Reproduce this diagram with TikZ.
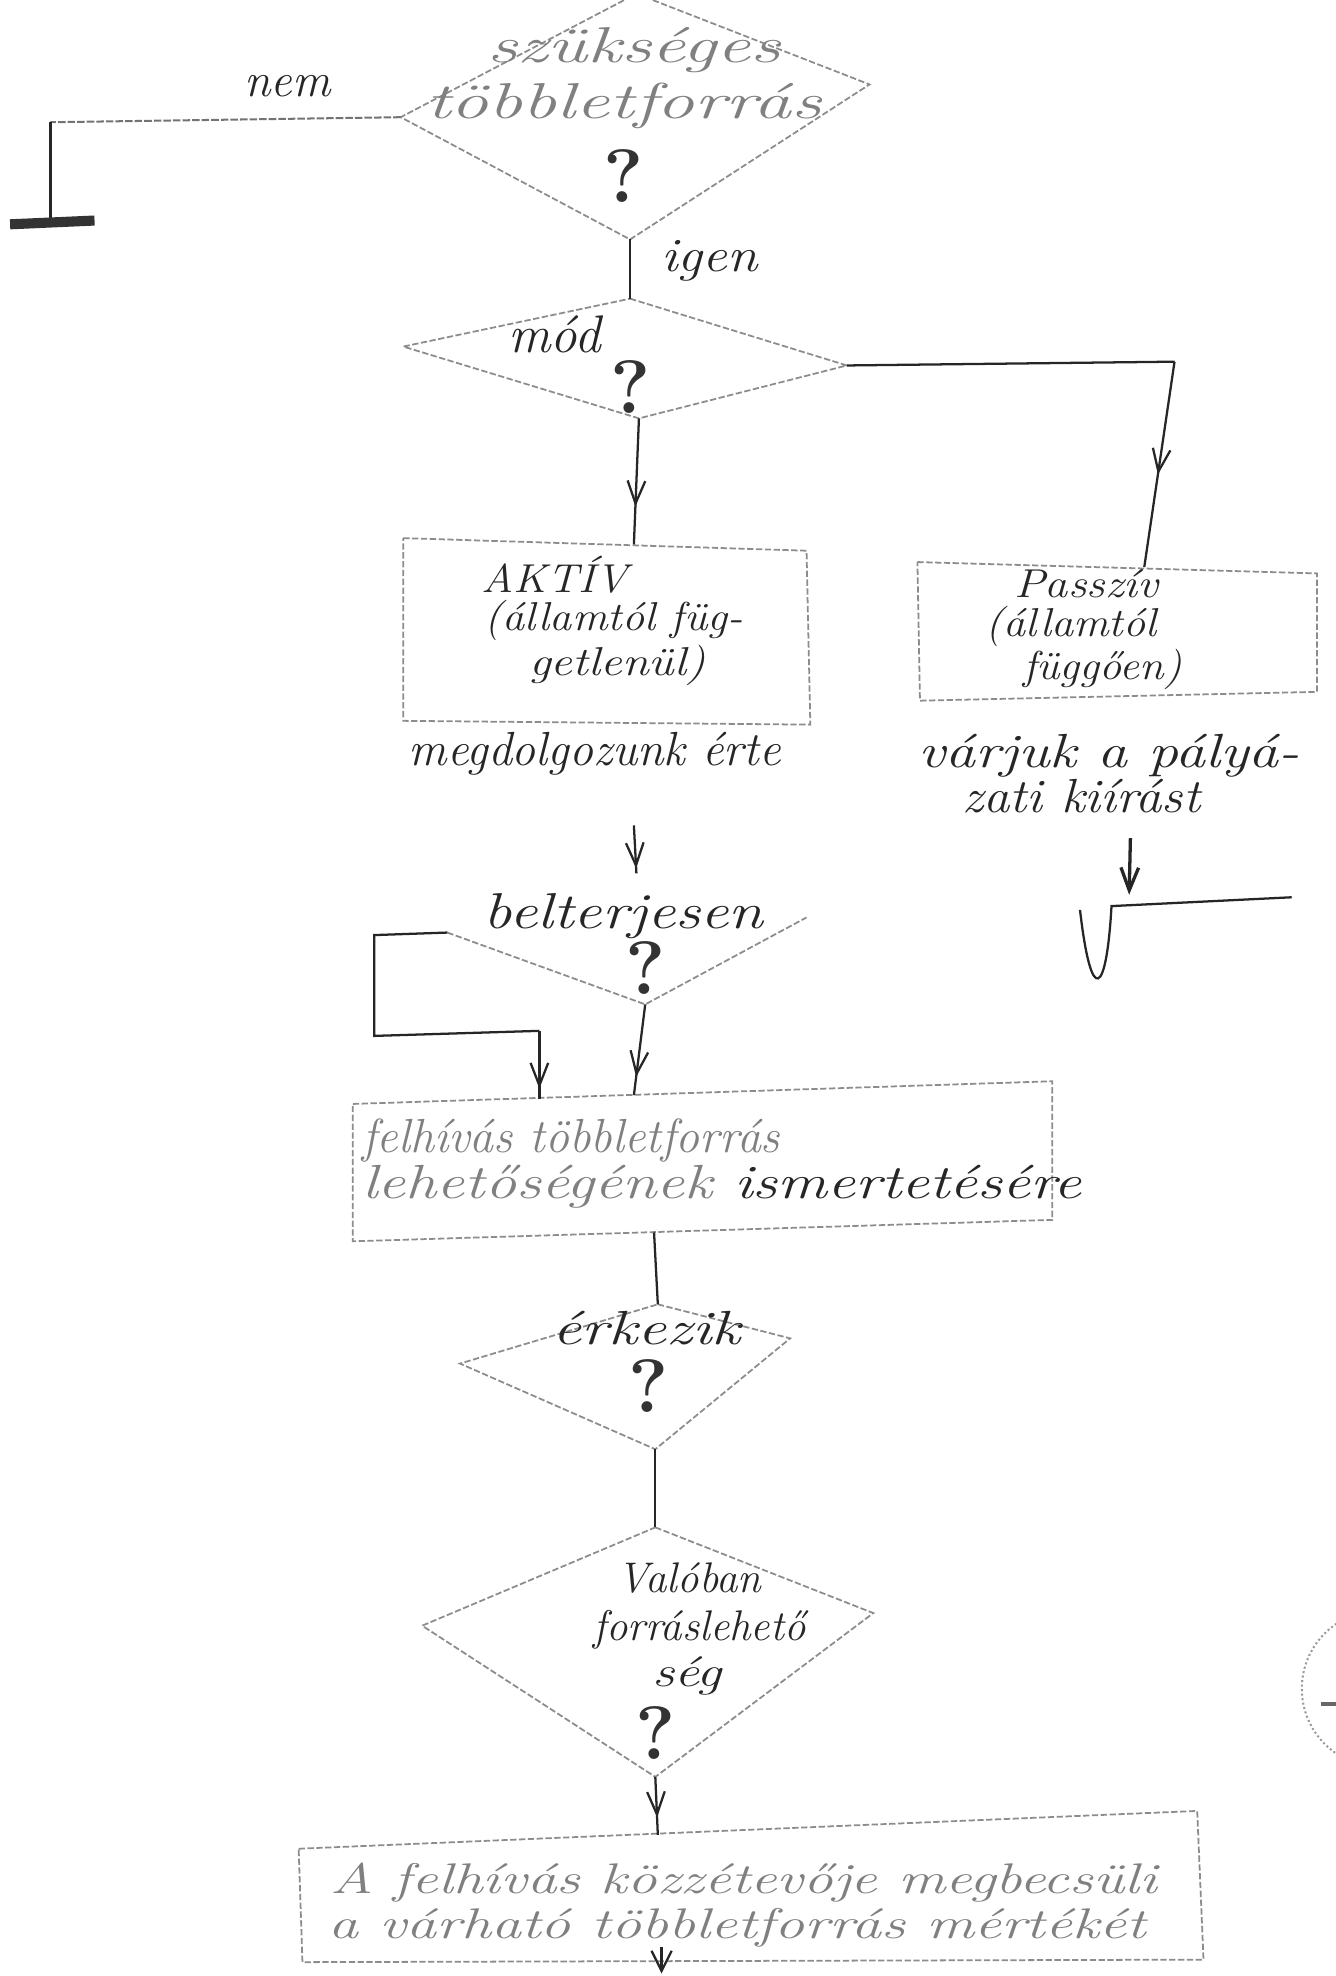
\documentclass[tikz,border=0pt]{standalone}
\usepackage{graphicx}
\usetikzlibrary{arrows.meta,decorations.markings}
\newcommand{\hstretch}[2]{\scalebox{#1}[1]{#2}}
\begin{document}
\begin{tikzpicture}[x=0.5pt,y=-0.5pt,
  shapeline/.style={draw=black!45, line width=0.7pt, dash pattern=on 2.5pt off 1pt},
  conn/.style={draw=black!85, line width=0.9pt},
  faintconn/.style={draw=black!55, line width=0.8pt, dash pattern=on 3pt off 0.8pt},
  midarrow/.style={postaction={decorate}, decoration={markings, mark=at position #1 with {\arrow{Straight Barb[length=9pt,width=7pt]}}}},
  txt/.style={font=\fontsize{19}{22}\selectfont\itshape, inner sep=0pt, text=black!85},
  small/.style={txt, font=\fontsize{16}{18}\selectfont\itshape},
  faint/.style={txt, text=black!50},
  q/.style={font=\fontsize{30}{30}\selectfont\bfseries, inner sep=0pt, text=black!80}]
\useasboundingbox (0,0) rectangle (1060,1568);

% ---------- left terminator ----------
\coordinate (ntop) at (40,97);
\coordinate (nbot) at (40,176);
\coordinate (barL) at (8,178);
\coordinate (barR) at (75,175);

% ---------- diamond 1 ----------
\coordinate (d1t) at (505,-5);
\coordinate (d1r) at (690,67);
\coordinate (d1b) at (500,190);
\coordinate (d1l) at (318,93);
\draw[shapeline] (d1t) -- (d1r) -- (d1b) -- (d1l) -- cycle;
\node[faint, font=\fontsize{20}{22}\selectfont\itshape] (d1a) at (503,40) {\hstretch{1.5}{szükséges}};
\node[faint, font=\fontsize{20}{22}\selectfont\itshape] (d1c) at (495,84) {\hstretch{1.5}{többletforrás}};
\node[q] (q1) at (495,140) {?};
\node[txt] (nem) at (228,68) {nem};
\node[txt] (igen) at (563,207) {\hstretch{1.15}{igen}};

\draw[faintconn] (d1l) -- (ntop);
\draw[conn] (ntop) -- (nbot);
\draw[black!80, line width=4pt] (barL) -- (barR);

% ---------- diamond 2 ----------
\coordinate (d2t) at (500,237);
\coordinate (d2r) at (672,290);
\coordinate (d2b) at (507,332);
\coordinate (d2l) at (320,275);
\draw[shapeline] (d2t) -- (d2r) -- (d2b) -- (d2l) -- cycle;
\node[txt, font=\fontsize{21}{24}\selectfont\itshape] (mod) at (440,265) {mód};
\node[q] (q2) at (500,307) {?};
\draw[conn] (d1b) -- (d2t);

% ---------- AKTIV box ----------
\coordinate (a1) at (320,427);
\coordinate (a2) at (640,437);
\coordinate (a3) at (643,575);
\coordinate (a4) at (320,572);
\coordinate (atop) at (503,432);
\draw[shapeline] (a1) -- (a2) -- (a3) -- (a4) -- cycle;
\node[small] (akt1) at (440,456) {\hstretch{1.1}{AKTÍV}};
\node[small] (akt2) at (487,492) {\hstretch{1.1}{(államtól füg-}};
\node[small] (akt3) at (490,528) {\hstretch{1.2}{getlenül)}};
\node[txt] (megd) at (472,598) {megdolgozunk érte};
\draw[conn, midarrow=0.7] (d2b) -- (atop);

% ---------- Passziv box ----------
\coordinate (p1) at (728,446);
\coordinate (p2) at (1045,455);
\coordinate (p3) at (1045,549);
\coordinate (p4) at (730,556);
\coordinate (ptop) at (908,450);
\coordinate (pcorner) at (932,287);
\draw[shapeline] (p1) -- (p2) -- (p3) -- (p4) -- cycle;
\node[small] (pas1) at (862,463) {\hstretch{1.15}{Passzív}};
\node[small] (pas2) at (850,497) {\hstretch{1.1}{(államtól}};
\node[small] (pas3) at (875,531) {\hstretch{1.1}{függően)}};
\node[txt] (var1) at (880,600) {\hstretch{1.25}{várjuk a pályá-}};
\node[txt] (var2) at (858,632) {\hstretch{1.1}{zati kiírást}};
\draw[conn] (d2r) -- (pcorner);
\draw[conn, midarrow=0.55] (pcorner) -- (ptop);

% ---------- end symbol right ----------
\coordinate (e1) at (857,722);
\coordinate (e2) at (882,719);
\coordinate (e3) at (1025,712);
\coordinate (eStart) at (897,665);
\coordinate (eArr) at (896,710);
\draw[conn] (e1) .. controls (866,800) and (878,790) .. (e2) -- (e3);
\draw[conn, -{Straight Barb[length=9pt,width=7pt]}, line width=1.3pt] (eStart) -- (eArr);

% ---------- diamond 3 (belterjesen) ----------
\coordinate (d3t) at (505,693);
\coordinate (d3r) at (640,728);
\coordinate (d3b) at (512,797);
\coordinate (d3l) at (355,740);
\coordinate (mA) at (503,655);
\draw[shapeline] (d3l) -- (d3b) -- (d3r);
\node[txt, font=\fontsize{20}{24}\selectfont\itshape] (belt) at (495,727) {\hstretch{1.25}{belterjesen}};
\node[q] (q3) at (512,768) {?};
\draw[conn, midarrow=0.9] (mA) -- (d3t);

% ---------- box 4 ----------
\coordinate (b1) at (280,876);
\coordinate (b2) at (835,858);
\coordinate (b3) at (835,968);
\coordinate (b4) at (280,985);
\coordinate (b4top) at (503,869);
\coordinate (b4topL) at (428,872);
\coordinate (b4bot) at (519,978);
\draw[shapeline] (b1) -- (b2) -- (b3) -- (b4) -- cycle;
\node[faint, anchor=west] (f1) at (287,905) {felhívás többletforrás};
\node[txt, anchor=west] (f2) at (287,942) {\hstretch{1.3}{{\color{black!50}lehetőségének} ismertetésére}};

\coordinate (lp1) at (297,742);
\coordinate (lp2) at (297,822);
\coordinate (lp3) at (428,818);
\draw[conn] (d3l) -- (lp1) -- (lp2) -- (lp3);
\draw[conn, midarrow=0.85] (lp3) -- (b4topL);
\draw[conn, midarrow=0.8] (d3b) -- (b4top);

% ---------- diamond 5 (erkezik) ----------
\coordinate (d5t) at (522,1035);
\coordinate (d5r) at (627,1062);
\coordinate (d5b) at (520,1150);
\coordinate (d5l) at (365,1082);
\draw[shapeline] (d5t) -- (d5r) -- (d5b) -- (d5l) -- cycle;
\node[txt] (erk) at (513,1054) {\hstretch{1.35}{érkezik}};
\node[q] (q5) at (515,1100) {?};
\draw[conn] (b4bot) -- (d5t);

% ---------- diamond 6 ----------
\coordinate (d6t) at (520,1212);
\coordinate (d6r) at (693,1280);
\coordinate (d6b) at (520,1410);
\coordinate (d6l) at (335,1290);
\draw[shapeline] (d6t) -- (d6r) -- (d6b) -- (d6l) -- cycle;
\node[small, font=\fontsize{17}{20}\selectfont\itshape] (val1) at (547,1252) {Valóban};
\node[small, font=\fontsize{17}{20}\selectfont\itshape] (val2) at (555,1293) {forráslehető};
\node[small, font=\fontsize{17}{20}\selectfont\itshape] (val3) at (545,1330) {\hstretch{1.3}{ség}};
\node[q] (q6) at (520,1375) {?};
\draw[conn] (d5b) -- (d6t);

% ---------- box 7 ----------
\coordinate (c1) at (237,1467);
\coordinate (c2) at (950,1437);
\coordinate (c3) at (955,1555);
\coordinate (c4) at (240,1557);
\coordinate (c7top) at (522,1456);
\coordinate (c7bot) at (525,1545);
\coordinate (c7out) at (525,1566);
\draw[shapeline] (c1) -- (c2) -- (c3) -- (c4) -- cycle;
\node[faint, font=\fontsize{17}{18}\selectfont\itshape] (k1) at (590,1494) {\hstretch{1.38}{A felhívás közzétevője megbecsüli}};
\node[faint, font=\fontsize{17}{18}\selectfont\itshape] (k2) at (585,1530) {\hstretch{1.4}{a várható többletforrás mértékét}};
\draw[conn, midarrow=0.7] (d6b) -- (c7top);
\draw[conn, -{Straight Barb[length=8pt,width=8pt]}] (c7bot) -- (c7out);

% ---------- scan mark (partial circle) ----------
\coordinate (circC) at (1095,1340);
\draw[black!40, line width=0.8pt, densely dotted] (circC) ++(115:62) arc (115:245:62);
\coordinate (dashA) at (1048,1352);
\coordinate (dashB) at (1060,1352);
\draw[black!60, line width=1.5pt] (dashA) -- (dashB);
\end{tikzpicture}
\end{document}
